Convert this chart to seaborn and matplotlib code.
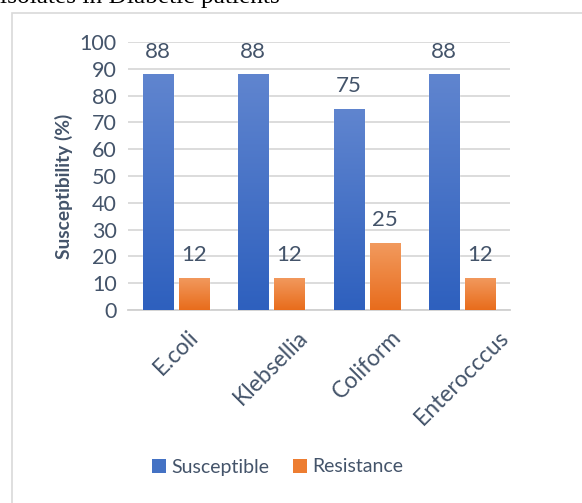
import matplotlib
matplotlib.use("Agg")
import matplotlib.pyplot as plt
from matplotlib.colors import LinearSegmentedColormap
from matplotlib.patches import Rectangle, Patch
import numpy as np
import pandas as pd
import seaborn as sns

categories = ["E.coli", "Klebsellia", "Coliform", "Enterocccus"]
susceptible = [88, 88, 75, 88]
resistance = [12, 12, 25, 12]
series_names = ["Susceptible", "Resistance"]
yticks = list(range(0, 101, 10))

df = pd.DataFrame({
    "Organism": categories * 2,
    "Value": susceptible + resistance,
    "Series": [series_names[0]] * len(categories) + [series_names[1]] * len(categories),
})

sns.set_theme(style="white")
plt.rcParams["font.family"] = ["Lato", "DejaVu Sans"]
TXT = "#44546A"

fig = plt.figure(figsize=(5.82, 5.03), dpi=100)
fig.patches.append(Rectangle((12 / 582, -0.01), 1.0, 1 - 13 / 503 + 0.01,
                             transform=fig.transFigure, fill=False,
                             edgecolor="#D9D9D9", linewidth=1.2))
fig.text(0.0, 1 - 3 / 503, "isolates in Diabetic patients", family="Liberation Serif",
         fontsize=18.3, color="black", ha="left", va="baseline")

ax = fig.add_axes([128 / 582, 1 - 310 / 503, (510 - 128) / 582, (310 - 42) / 503])
palette = {"Susceptible": "#4472C4", "Resistance": "#ED7D31"}
sns.barplot(data=df, x="Organism", y="Value", hue="Series", palette=palette,
            saturation=1, width=0.758, gap=0.167, ax=ax, legend=False, zorder=3)

ax.set_ylim(0, 100)
ax.set_xlim(-0.5, 3.5)
ax.set_yticks(yticks)
ax.set_yticklabels([str(t) for t in yticks], fontsize=15.5, color=TXT)
ax.yaxis.grid(True, color="#D9D9D9", linewidth=1.3, zorder=0)
ax.set_axisbelow(True)
for s in ["top", "right", "left"]:
    ax.spines[s].set_visible(False)
ax.spines["bottom"].set_color("#D0D0D0")
ax.spines["bottom"].set_linewidth(1.3)
ax.tick_params(axis="y", length=0, pad=8)

ax.set_xticks(np.arange(-0.5, 4.0, 1.0), minor=True)
ax.tick_params(axis="x", which="minor", length=7, width=1.3, color="#D0D0D0")
ax.tick_params(axis="x", which="major", length=0, pad=12)
ax.set_xticks(range(len(categories)))
ax.set_xticklabels(categories, rotation=45, ha="center", va="top",
                   fontsize=16.5, color=TXT)
ax.set_xlabel("")
ax.set_ylabel("Susceptibility (%)", fontsize=13.8, fontweight="bold", color=TXT)
ax.yaxis.set_label_coords(-0.145, 0.46)

grads = {
    "Susceptible": LinearSegmentedColormap.from_list("b", ["#2E60BE", "#6085CF"]),
    "Resistance": LinearSegmentedColormap.from_list("o", ["#E86C1C", "#F29A5E"]),
}
grad = np.linspace(0, 1, 256).reshape(-1, 1)
n = len(categories)
for i, p in enumerate(list(ax.patches)[:2 * n]):
    h = p.get_height()
    x0 = p.get_x(); w = p.get_width()
    series = series_names[i // n]
    im = ax.imshow(grad, extent=[x0, x0 + w, 0, h], origin="lower", aspect="auto",
                   cmap=grads[series], zorder=4)
    im.set_clip_path(p)
    ax.annotate(f"{h:.0f}", (x0 + w / 2, h), xytext=(0, 9), textcoords="offset points",
                ha="center", va="bottom", fontsize=16, color=TXT, zorder=5)
ax.set_xlim(-0.5, 3.5)
ax.set_ylim(0, 100)

handles = [Patch(facecolor=palette[s], edgecolor="none") for s in series_names]
fig.legend(handles, series_names, loc="center", bbox_to_anchor=(278 / 582, 1 - 467 / 503),
           ncol=2, frameon=False, fontsize=14, handlelength=0.7, handleheight=0.7,
           handletextpad=0.3, columnspacing=1.2, labelcolor=TXT)

fig.savefig("out.png", dpi=100)
